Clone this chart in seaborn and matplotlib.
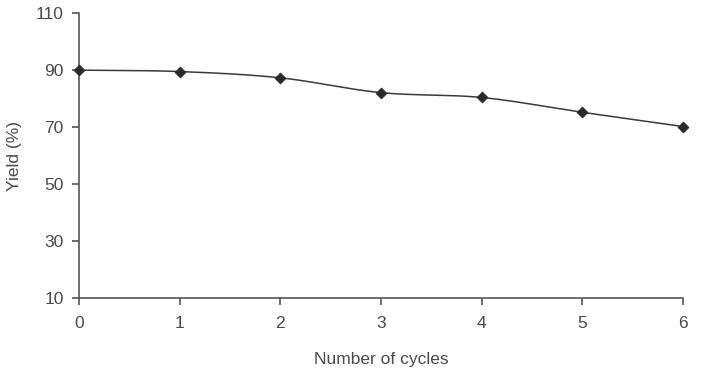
import numpy as np
import pandas as pd
import matplotlib
matplotlib.use("Agg")
import matplotlib.pyplot as plt
import seaborn as sns

cycles = [0, 1, 2, 3, 4, 5, 6]
yield_pct = [90.0, 89.5, 87.3, 82.1, 80.4, 75.2, 70.2]

sns.set_style("ticks")
plt.rcParams['font.family'] = ['Liberation Sans', 'DejaVu Sans']

df = pd.DataFrame({'Number of cycles': cycles, 'Yield (%)': yield_pct})

# smooth line through points (Catmull-Rom, like Excel's smoothed line)
def smooth(x, y, n=30):
    x = np.asarray(x, float)
    y = np.asarray(y, float)
    px = np.concatenate([[2 * x[0] - x[1]], x, [2 * x[-1] - x[-2]]])
    py = np.concatenate([[2 * y[0] - y[1]], y, [2 * y[-1] - y[-2]]])
    xs, ys = [], []
    t = np.linspace(0, 1, n)
    for i in range(1, len(px) - 2):
        for arr, out in ((px, xs), (py, ys)):
            p0, p1, p2, p3 = arr[i - 1], arr[i], arr[i + 1], arr[i + 2]
            out.extend(0.5 * (2 * p1 + (-p0 + p2) * t
                              + (2 * p0 - 5 * p1 + 4 * p2 - p3) * t ** 2
                              + (-p0 + 3 * p1 - 3 * p2 + p3) * t ** 3))
    return np.array(xs), np.array(ys)

sx, sy = smooth(cycles, yield_pct)
curve = pd.DataFrame({'x': sx, 'y': sy})

fig = plt.figure(figsize=(7.05, 3.75), dpi=100)
ax = fig.add_axes([0.112, 0.205, 0.857, 0.76])

dark = '#3a3a3a'
sns.lineplot(x='x', y='y', data=curve, ax=ax, color=dark, linewidth=1.1,
             sort=False, estimator=None)
sns.scatterplot(x='Number of cycles', y='Yield (%)', data=df, ax=ax,
                marker='D', s=32, color='#2a2a2a', edgecolor='#2a2a2a',
                zorder=5, clip_on=False)

ax.set_xlim(0, 6)
ax.set_ylim(10, 110)
ax.set_xticks(cycles)
ax.set_yticks([10, 30, 50, 70, 90, 110])
sns.despine(ax=ax)
for s in ['left', 'bottom']:
    ax.spines[s].set_color('#555555')
    ax.spines[s].set_linewidth(1.2)
ax.tick_params(axis='both', colors='#555555', labelcolor='#4a4a4a',
               labelsize=12.5, length=5, width=1.2)
ax.tick_params(axis='y', pad=6)
ax.tick_params(axis='x', pad=8)
ax.set_xlabel('Number of cycles', fontsize=12.5, color='#4a4a4a', labelpad=15)
ax.set_ylabel('Yield (%)', fontsize=12.5, color='#4a4a4a', labelpad=10)

fig.savefig('out.png', dpi=100)
